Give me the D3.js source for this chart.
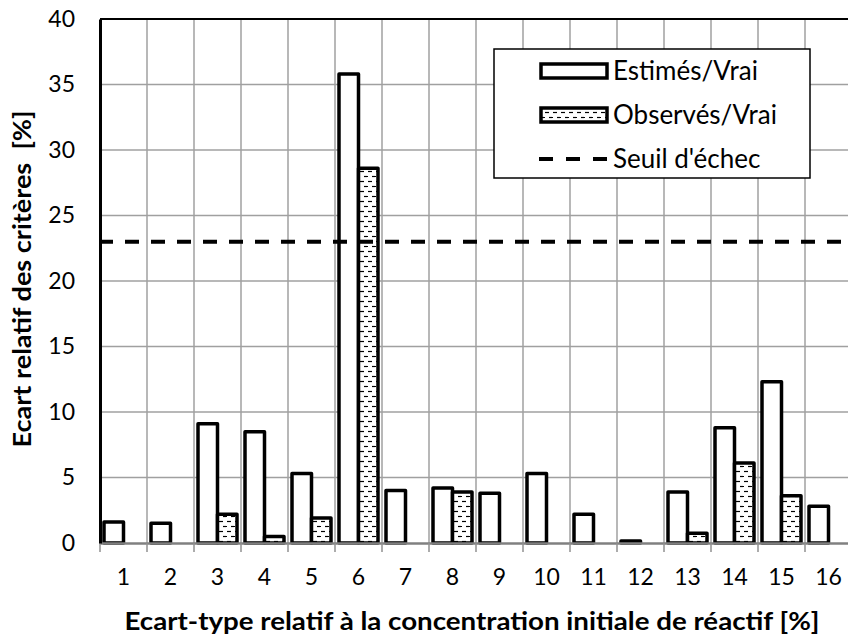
<!DOCTYPE html>
<html>
<head>
<meta charset="utf-8">
<script src="https://cdn.jsdelivr.net/npm/d3@7/dist/d3.min.js"></script>
<style>
  body { margin: 0; background: #fff; }
  svg { display: block; }
  text { font-family: Lato, "Open Sans", sans-serif; fill: #000; }
</style>
</head>
<body>
<svg id="chart"></svg>
<script>
const categories = ["1", "2", "3", "4", "5", "6", "7", "8", "9", "10", "11", "12", "13", "14", "15", "16"];
const estimes = [1.6, 1.5, 9.1, 8.5, 5.3, 35.8, 4.0, 4.2, 3.8, 5.3, 2.2, 0.15, 3.9, 8.8, 12.3, 2.8];
const observes = [0, 0, 2.2, 0.5, 1.9, 28.6, 0, 3.9, 0, 0, 0, 0, 0.75, 6.1, 3.6, 0];
const seuil = 23;
const yTicks = [0, 5, 10, 15, 20, 25, 30, 35, 40];
const seriesNames = ["Estimés/Vrai", "Observés/Vrai"];

const W = 848, H = 637;
const margin = { top: 19, left: 100 };
const plotW = 752, plotH = 524;

const svg = d3.select("#chart").attr("width", W).attr("height", H);

// motif pointillé des barres "observés"
const defs = svg.append("defs");
const pat = defs.append("pattern")
    .attr("id", "hatch")
    .attr("patternUnits", "userSpaceOnUse")
    .attr("width", 8).attr("height", 10);
pat.append("rect").attr("width", 8).attr("height", 10).attr("fill", "#fff");
pat.append("line").attr("x1", 1).attr("x2", 5).attr("y1", 2.5).attr("y2", 2.5)
    .attr("stroke", "#000").attr("stroke-width", 1.2);
pat.append("line").attr("x1", 5).attr("x2", 8).attr("y1", 7.5).attr("y2", 7.5)
    .attr("stroke", "#000").attr("stroke-width", 1.2);
pat.append("line").attr("x1", 0).attr("x2", 1).attr("y1", 7.5).attr("y2", 7.5)
    .attr("stroke", "#000").attr("stroke-width", 1.2);

const g = svg.append("g").attr("transform", `translate(${margin.left},${margin.top})`);

const x0 = d3.scaleBand().domain(categories).range([0, plotW]).padding(0);
const x1 = d3.scaleBand().domain(seriesNames).range([4, x0.bandwidth() - 4]).padding(0);
const y = d3.scaleLinear().domain([0, 40]).range([plotH, 0]);

// grille horizontale
g.append("g").selectAll("line").data(yTicks.slice(1, -1)).enter().append("line")
    .attr("x1", 0).attr("x2", plotW)
    .attr("y1", d => y(d)).attr("y2", d => y(d))
    .attr("stroke", "#a0a0a0").attr("stroke-width", 1.5);

// grille verticale entre catégories
g.append("g").selectAll("line").data(categories.slice(1)).enter().append("line")
    .attr("x1", d => x0(d)).attr("x2", d => x0(d))
    .attr("y1", 0).attr("y2", plotH)
    .attr("stroke", "#a0a0a0").attr("stroke-width", 1.5);

g.append("line").attr("x1", 0).attr("x2", plotW).attr("y1", 0).attr("y2", 0)
    .attr("stroke", "#000").attr("stroke-width", 2);

// barres
const rows = categories.map((c, i) => ({ c, vals: [estimes[i], observes[i]] }));
const groups = g.append("g").selectAll("g").data(rows).enter().append("g")
    .attr("transform", d => `translate(${x0(d.c)},0)`);
groups.selectAll("rect")
    .data(d => d.vals.map((v, k) => ({ v, s: seriesNames[k] })))
    .enter().append("rect")
    .attr("x", d => x1(d.s))
    .attr("width", x1.bandwidth())
    .attr("y", d => y(d.v))
    .attr("height", d => plotH - y(d.v))
    .attr("fill", d => d.s === seriesNames[0] ? "#fff" : "url(#hatch)")
    .attr("stroke", "#000").attr("stroke-width", 3.5)
    .attr("stroke-linejoin", "round");

// axe x
const xAxis = g.append("g").attr("transform", `translate(0,${plotH})`)
    .call(d3.axisBottom(x0).tickSize(0).tickPadding(26));
xAxis.select(".domain").attr("stroke", "#808080").attr("stroke-width", 2.5);
xAxis.selectAll("text").style("font-size", "23px").style("font-family", "Lato, sans-serif");
g.append("g").selectAll("line").data(categories).enter().append("line")
    .attr("x1", d => x0(d)).attr("x2", d => x0(d))
    .attr("y1", plotH).attr("y2", plotH + 9)
    .attr("stroke", "#909090").attr("stroke-width", 1.5);

// axe y
const yAxis = g.append("g")
    .call(d3.axisLeft(y).tickValues(yTicks).tickSize(0).tickPadding(25));
yAxis.select(".domain").attr("stroke", "#000").attr("stroke-width", 3);
yAxis.selectAll("text").style("font-size", "23px").style("font-family", "Lato, sans-serif");

// seuil d'échec
g.append("line")
    .attr("x1", -1).attr("x2", plotW)
    .attr("y1", y(seuil)).attr("y2", y(seuil))
    .attr("stroke", "#000").attr("stroke-width", 4)
    .attr("stroke-dasharray", "14,12");

// titres des axes
svg.append("text")
    .attr("x", 472).attr("y", 630)
    .attr("text-anchor", "middle")
    .attr("textLength", 695).attr("lengthAdjust", "spacingAndGlyphs")
    .style("font-size", "25px").style("font-weight", "bold")
    .text("Ecart-type relatif à la concentration initiale de réactif [%]");
svg.append("text")
    .attr("transform", "translate(31,279) rotate(-90)")
    .attr("text-anchor", "middle")
    .attr("textLength", 337).attr("lengthAdjust", "spacingAndGlyphs")
    .style("white-space", "pre")
    .style("font-size", "25px").style("font-weight", "bold")
    .text("Ecart relatif des critères  [%]");

// légende
const lg = svg.append("g");
lg.append("rect").attr("x", 494).attr("y", 49).attr("width", 316).attr("height", 129)
    .attr("fill", "#fff").attr("stroke", "#000").attr("stroke-width", 1.5);
const legY = [71, 115, 159];
seriesNames.forEach((s, k) => {
    lg.append("rect").attr("x", 541).attr("y", legY[k] - 7).attr("width", 66).attr("height", 14)
        .attr("fill", k === 0 ? "#fff" : "url(#hatch)")
        .attr("stroke", "#000").attr("stroke-width", 3.5);
    lg.append("text").attr("x", 613).attr("y", legY[k]).attr("dy", "0.35em")
        .style("font-size", "26px").text(s);
});
lg.append("line").attr("x1", 539).attr("x2", 607).attr("y1", legY[2]).attr("y2", legY[2])
    .attr("stroke", "#000").attr("stroke-width", 4).attr("stroke-dasharray", "14,13");
lg.append("text").attr("x", 613).attr("y", legY[2]).attr("dy", "0.35em")
    .style("font-size", "26px").text("Seuil d'échec");
</script>
</body>
</html>
